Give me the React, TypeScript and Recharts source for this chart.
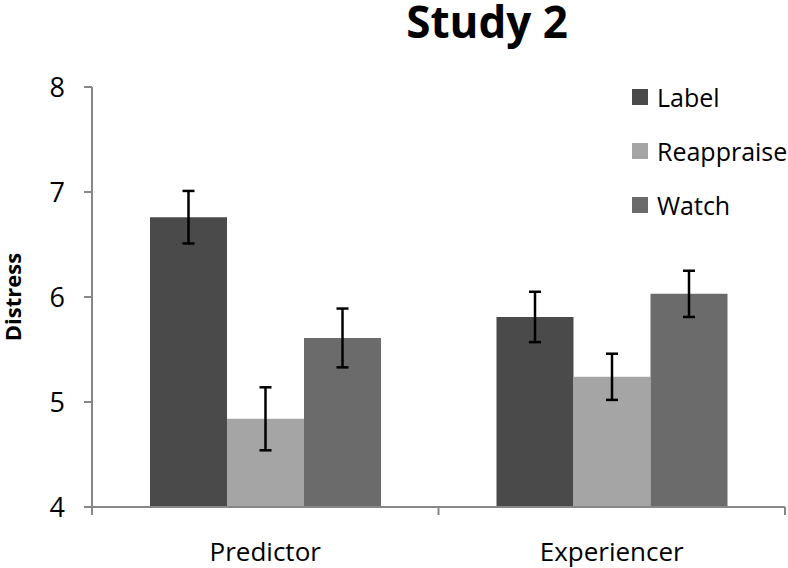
import React from "react";
import { BarChart, Bar, XAxis, YAxis, ErrorBar, Legend } from "recharts";

const categories = ["Predictor", "Experiencer"];
const labelValues = [6.76, 5.81];
const labelErrors = [0.25, 0.24];
const reappraiseValues = [4.84, 5.24];
const reappraiseErrors = [0.3, 0.22];
const watchValues = [5.61, 6.03];
const watchErrors = [0.28, 0.22];
const yTicks = [4, 5, 6, 7, 8];

const data = categories.map((c, i) => ({
  name: c,
  Label: labelValues[i],
  LabelErr: labelErrors[i],
  Reappraise: reappraiseValues[i],
  ReappraiseErr: reappraiseErrors[i],
  Watch: watchValues[i],
  WatchErr: watchErrors[i],
}));

const FONT = "'Open Sans', 'Noto Sans', sans-serif";
const AXIS = "#878787";

const LegendContent = (props: any) => {
  const { payload } = props;
  return (
    <div style={{ fontFamily: FONT }}>
      {(payload || []).map((p: any) => (
        <div key={p.value} style={{ display: "flex", alignItems: "center", height: 54 }}>
          <span style={{ width: 16, height: 16, background: p.color, display: "inline-block", marginRight: 9 }} />
          <span style={{ fontSize: 25, color: "#000", lineHeight: 1 }}>{p.value}</span>
        </div>
      ))}
    </div>
  );
};

const CatTick = (props: any) => {
  const { x, y, payload, index, visibleTicksCount } = props;
  const half = payload && typeof payload.offset === "number" && payload.offset > 0 ? payload.offset : 0;
  const last = index === (visibleTicksCount || 2) - 1;
  return (
    <g>
      {half > 0 && <line x1={x - half} x2={x - half} y1={y} y2={y + 8} stroke={AXIS} strokeWidth={2} />}
      {half > 0 && last && <line x1={x + half} x2={x + half} y1={y} y2={y + 8} stroke={AXIS} strokeWidth={2} />}
      <text
        x={x}
        y={y + 36}
        dy="0.71em"
        textAnchor="middle"
        fill="#000"
        fontSize={26}
        fontFamily={FONT}
      >
        {payload.value}
      </text>
    </g>
  );
};

const YLabel = (props: any) => {
  const vb = props.viewBox || {};
  const cx = 12;
  const cy = vb.y + vb.height / 2;
  return (
    <text
      x={cx}
      y={cy}
      transform={`rotate(-90, ${cx}, ${cy})`}
      textAnchor="middle"
      dominantBaseline="central"
      fontSize={22}
      fontWeight={700}
      fontFamily={FONT}
      fill="#000"
    >
      Distress
    </text>
  );
};

export default function App() {
  return (
    <div style={{ position: "absolute", left: 0, top: 0, width: 788, height: 568, background: "#fff" }}>
      <div
        style={{
          position: "absolute",
          left: 287,
          top: 3,
          width: 400,
          textAlign: "center",
          fontFamily: FONT,
          fontWeight: 700,
          fontSize: 44,
          lineHeight: "36px",
          color: "#000",
        }}
      >
        Study 2
      </div>
      <BarChart
        width={788}
        height={568}
        data={data}
        margin={{ top: 87, right: 3, bottom: 0, left: 0 }}
        barGap={0}
        barSize={77}
      >
        <XAxis
          dataKey="name"
          height={61}
          axisLine={{ stroke: AXIS, strokeWidth: 2 }}
          tickLine={false}
          tickSize={0}
          tickMargin={0}
          tick={<CatTick />}
        />
        <YAxis
          width={92}
          domain={[4, 8]}
          ticks={yTicks}
          allowDataOverflow
          axisLine={{ stroke: AXIS, strokeWidth: 2 }}
          tickLine={{ stroke: AXIS, strokeWidth: 2 }}
          tickSize={8}
          tickMargin={19}
          tick={{ fill: "#000", fontSize: 27, fontFamily: FONT }}
          label={<YLabel />}
        />
        <Legend
          layout="vertical"
          align="center"
          verticalAlign="middle"
          wrapperStyle={{ left: 632, top: 70, width: 156, height: 162 }}
          content={<LegendContent />}
        />
        <Bar dataKey="Label" fill="#4a4a4a" isAnimationActive={false}>
          <ErrorBar dataKey="LabelErr" width={6} stroke="#000" strokeWidth={2.5} />
        </Bar>
        <Bar dataKey="Reappraise" fill="#a5a5a5" isAnimationActive={false}>
          <ErrorBar dataKey="ReappraiseErr" width={6} stroke="#000" strokeWidth={2.5} />
        </Bar>
        <Bar dataKey="Watch" fill="#6b6b6b" isAnimationActive={false}>
          <ErrorBar dataKey="WatchErr" width={6} stroke="#000" strokeWidth={2.5} />
        </Bar>
      </BarChart>
    </div>
  );
}
